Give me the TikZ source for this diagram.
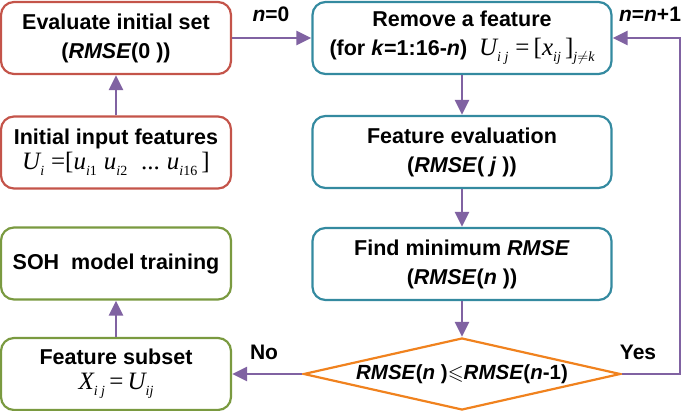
\documentclass[tikz,border=0pt]{standalone}
\usepackage{amssymb}
\usepackage{fontspec}
\setmainfont{Liberation Sans}
\newfontfamily\tms{Liberation Serif}
\usetikzlibrary{arrows.meta,shapes.geometric}
\definecolor{cred}{RGB}{196,84,74}
\definecolor{cteal}{RGB}{52,138,160}
\definecolor{cgreen}{RGB}{122,154,64}
\definecolor{corange}{RGB}{240,130,30}
\definecolor{cpurp}{RGB}{128,98,162}
\newcommand\mi[1]{{\tms\itshape #1}}
\newcommand\ms[1]{\raisebox{-0.45ex}{\fontsize{14}{14}\selectfont\tms #1}}
\newcommand\mrm[1]{{\tms #1}}
\begin{document}
\begin{tikzpicture}[x=1pt,y=-1pt,
  box/.style={draw,line width=2.2pt,rounded corners=13pt,minimum width=230pt,minimum height=72pt,align=center,inner sep=0pt,font=\fontsize{21.5}{29}\selectfont\bfseries},
  rbox/.style={box,draw=cred},
  tbox/.style={box,draw=cteal,minimum width=299pt},
  gbox/.style={box,draw=cgreen},
  arr/.style={draw=cpurp,line width=2.8pt,-{Triangle[length=15pt,width=14pt]}},
  lab/.style={font=\fontsize{21}{24}\selectfont\bfseries,inner sep=0pt}]
\useasboundingbox (0,0) rectangle (685,411);
\node[rbox] (eval) at (116,38) {Evaluate initial set\\(\textit{RMSE}(0 ))};
\node[rbox] (init) at (116,152.5) {Initial input features\\[-4pt]\fontsize{25}{26}\selectfont\mdseries\mi{U}\ms{\itshape i}\ \mrm{=[}\mi{u}\ms{\itshape i\upshape 1}\ \mi{u}\ms{\itshape i\upshape 2}\ \ \mrm{...}\ \mi{u}\ms{\itshape i\upshape 16}\,\mrm{]}};
\node[gbox] (soh) at (116,263.5) {SOH\ \ model training};
\node[gbox] (sub) at (116,374) {Feature subset\\[-4pt]\fontsize{25}{26}\selectfont\mdseries\mi{X}\ms{\itshape i j}\,\mrm{=}\,\mi{U}\ms{\itshape ij}};
\node[tbox] (rem) at (462,38) {Remove a feature\\(for \textit{k}=1:16-\textit{n})\ \ {\fontsize{25}{26}\selectfont\mdseries\mi{U}\ms{\itshape i j}\ \mrm{=}\,\mrm{[}\mi{x}\ms{\itshape ij}\,\mrm{]}\ms{\itshape j$\neq$k}}};
\node[tbox] (fev) at (462,152) {Feature evaluation\\(\textit{RMSE}( \textit{j} ))};
\node[tbox] (fmin) at (462,264) {Find minimum \textit{RMSE}\\(\textit{RMSE}(\textit{n} ))};
\node[draw=corange,line width=2.2pt,diamond,aspect=4.4,minimum width=317pt,minimum height=72pt,inner sep=0pt,font=\fontsize{20.5}{24}\selectfont\bfseries] (dec) at (462,374) {\textit{RMSE}(\textit{n} )$\leqslant$\textit{RMSE}(\textit{n}-1)};
\draw[arr] (init) -- (eval);
\draw[arr] (eval) -- (rem);
\draw[arr] (rem) -- (fev);
\draw[arr] (fev) -- (fmin);
\draw[arr] (fmin) -- (dec);
\draw[arr] (dec.west) -- (sub.east);
\draw[arr] (sub) -- (soh);
\coordinate (c1) at (680,374);
\coordinate (c2) at (680,38);
\draw[arr] (dec.east) -- (c1) -- (c2) -- (rem.east);
\node[lab] (l0) at (271,14) {\textit{n}=0};
\node[lab] (l1) at (650,14) {\textit{n}=\textit{n}+1};
\node[lab] (lno) at (264,352) {No};
\node[lab] (lyes) at (638,352) {Yes};
\end{tikzpicture}
\end{document}
